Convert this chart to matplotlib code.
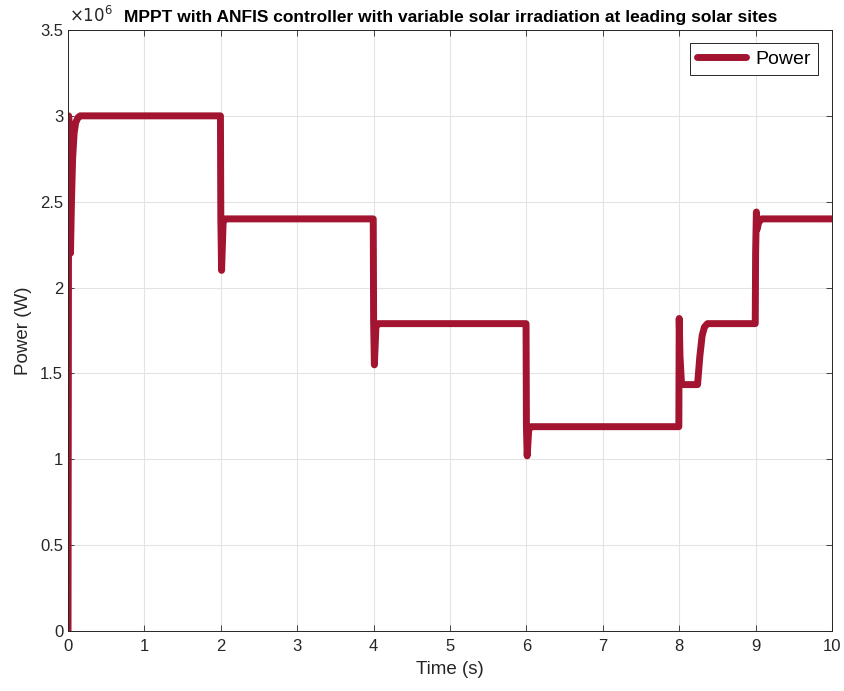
import matplotlib.pyplot as plt

plt.rcParams['font.family'] = ['Liberation Sans', 'DejaVu Sans']

# breakpoints of the simulated PV output power (time in s, power in W)
time_s = [0.0, 0.008, 0.015, 0.022, 0.032, 0.045, 0.06, 0.08, 0.10, 0.13, 0.16,
          1.995, 2.0, 2.01, 2.03, 2.06,
          3.995, 4.0, 4.01, 4.03, 4.06,
          5.995, 6.0, 6.01, 6.03, 6.06,
          7.995, 8.0, 8.01, 8.03, 8.06, 8.24, 8.27, 8.30, 8.33, 8.37, 8.42,
          8.995, 9.0, 9.01, 9.02, 9.04, 9.08, 10.0]
power_w = [0.0, 3.0e6, 2.95e6, 2.6e6, 2.2e6, 2.5e6, 2.75e6, 2.9e6, 2.96e6, 2.99e6, 3.0e6,
           3.0e6, 2.4e6, 2.1e6, 2.38e6, 2.4e6,
           2.4e6, 1.8e6, 1.55e6, 1.77e6, 1.79e6,
           1.79e6, 1.19e6, 1.02e6, 1.17e6, 1.19e6,
           1.19e6, 1.82e6, 1.6e6, 1.44e6, 1.435e6, 1.435e6, 1.6e6, 1.72e6, 1.77e6, 1.79e6, 1.79e6,
           1.79e6, 2.2e6, 2.44e6, 2.34e6, 2.38e6, 2.4e6, 2.4e6]

fig = plt.figure(figsize=(8.44, 6.91), dpi=100)
ax = fig.add_axes([0.0806, 0.0868, 0.9052, 0.8698])

ax.plot(time_s, power_w, color='#A2142F', linewidth=5.0, label='Power',
        solid_joinstyle='round', solid_capstyle='round')

ax.set_xlim(0, 10)
ax.set_ylim(0, 3.5e6)
ax.set_xticks(range(0, 11))
ax.set_yticks([0, 0.5e6, 1e6, 1.5e6, 2e6, 2.5e6, 3e6, 3.5e6])
ax.set_yticklabels(['0', '0.5', '1', '1.5', '2', '2.5', '3', '3.5'])
ax.tick_params(labelsize=12, direction='in', length=4, width=0.6, colors='#262626',
               top=True, right=True)
ax.tick_params(axis='x', pad=6)
ax.grid(True, color='#e3e3e3', linewidth=0.8)
ax.set_axisbelow(True)
for sp in ax.spines.values():
    sp.set_linewidth(0.7)
    sp.set_color('#262626')

ax.set_xlabel('Time (s)', fontsize=13.5, color='#262626', labelpad=5)
ax.set_ylabel('Power (W)', fontsize=13.5, color='#262626', labelpad=6)

fig.text(0.082, 0.968, r'$\times 10^6$', fontsize=12, color='#262626',
         va='baseline', ha='left', math_fontfamily='dejavusans')
fig.text(0.534, 0.968, 'MPPT with ANFIS controller with variable solar irradiation at leading solar sites',
         fontsize=12.5, fontweight='bold', ha='center', va='baseline', color='black')

leg = ax.legend(loc='upper right', fontsize=14, handlelength=2.5, handletextpad=0.5,
                borderpad=0.35, fancybox=False, edgecolor='#262626', framealpha=1,
                bbox_to_anchor=(0.994, 0.994))
leg.get_frame().set_linewidth(0.7)

fig.savefig('out.png', dpi=100)
